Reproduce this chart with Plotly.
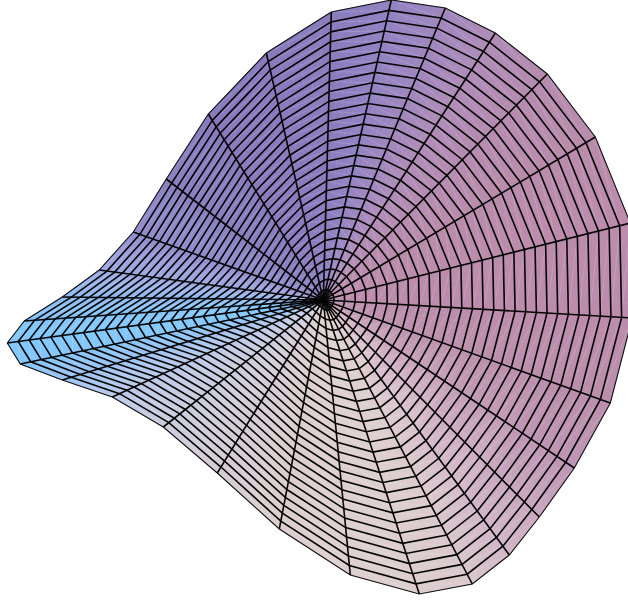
import plotly.graph_objects as go

# Outer edge of the surface, one point per spoke, clockwise from the top (data units, centre at 0,0)
rim_x = [0.08, 0.68, 1.22, 1.72, 2.24, 2.72, 3.07, 3.09, 2.87, 2.51, 2.16, 1.86, 1.49, 0.96,
         0.27, -0.44, -1.06, -1.60, -2.11, -2.61, -3.03, -3.16, -2.99, -2.61, -2.24, -1.90,
         -1.57, -1.15, -0.57]
rim_y = [2.88, 3.00, 2.92, 2.67, 2.26, 1.63, 0.77, -0.18, -1.03, -1.68, -2.17, -2.55, -2.84,
         -2.94, -2.75, -2.29, -1.73, -1.27, -0.97, -0.80, -0.64, -0.43, -0.21, 0.03, 0.30,
         0.68, 1.21, 1.86, 2.47]
ring_levels = [0.0, 0.0345, 0.069, 0.1034, 0.1379, 0.1724, 0.2069, 0.2414, 0.2759, 0.3103,
               0.3448, 0.3793, 0.4138, 0.4483, 0.4828, 0.5172, 0.5517, 0.5862, 0.6207, 0.6552,
               0.6897, 0.7241, 0.7586, 0.7931, 0.8276, 0.8621, 0.8966, 0.931, 0.9655, 1.0]
# Surface colour seen at each spoke, at the outer edge and next to the centre
outer_colors = [(137, 125, 190), (146, 130, 194), (160, 135, 190), (175, 140, 184), (182, 140, 176),
                (186, 140, 172), (187, 140, 171), (187, 140, 171), (186, 142, 172), (188, 148, 178),
                (198, 165, 190), (208, 180, 198), (216, 198, 204), (220, 206, 206), (222, 208, 208),
                (220, 206, 206), (214, 205, 212), (204, 205, 222), (188, 202, 232), (158, 196, 242),
                (132, 197, 252), (128, 200, 255), (130, 198, 254), (142, 188, 244), (160, 172, 228),
                (148, 142, 206), (138, 128, 194), (136, 124, 190), (136, 124, 190)]
inner_colors = [(137, 125, 190), (146, 130, 194), (160, 135, 190), (175, 140, 184), (182, 140, 176),
                (186, 140, 172), (187, 140, 171), (187, 140, 171), (190, 148, 176), (205, 170, 190),
                (218, 192, 204), (222, 202, 208), (224, 208, 209), (222, 208, 208), (222, 208, 208),
                (220, 206, 206), (214, 205, 212), (204, 205, 222), (188, 202, 232), (158, 196, 242),
                (132, 197, 252), (128, 200, 255), (130, 198, 254), (142, 188, 244), (160, 172, 228),
                (148, 142, 206), (138, 128, 194), (136, 124, 190), (136, 124, 190)]

n = len(rim_x)
SUB = 6
BANDS = 4
fig = go.Figure()


def mix(a, b, t):
    return tuple(a[j] + (b[j] - a[j]) * t for j in range(3))


def rgb(c):
    return "rgb(%d,%d,%d)" % tuple(round(v) for v in c)


for i in range(n):
    a = (i + 1) % n
    for s in range(SUB):
        t0, t1 = s / SUB, (s + 1) / SUB
        p0x, p0y = rim_x[i] + (rim_x[a] - rim_x[i]) * t0, rim_y[i] + (rim_y[a] - rim_y[i]) * t0
        p1x, p1y = rim_x[i] + (rim_x[a] - rim_x[i]) * t1, rim_y[i] + (rim_y[a] - rim_y[i]) * t1
        tm = (t0 + t1) / 2
        cout = mix(outer_colors[i], outer_colors[a], tm)
        cin = mix(inner_colors[i], inner_colors[a], tm)
        same = cout == cin
        for b in range(1 if same else BANDS):
            r0, r1 = (0.0, 1.0) if same else (b / BANDS, (b + 1) / BANDS)
            c = rgb(mix(cin, cout, (r0 + r1) / 2))
            xs = [p0x * r0, p0x * r1, p1x * r1, p1x * r0, p0x * r0]
            ys = [p0y * r0, p0y * r1, p1y * r1, p1y * r0, p0y * r0]
            fig.add_trace(go.Scatter(x=xs, y=ys, mode="lines", fill="toself", fillcolor=c,
                                     line=dict(color=c, width=0.6), hoverinfo="skip", showlegend=False))

# faint triangulation seams
sx, sy = [], []
for i in range(n):
    a = (i + 1) % n
    for k in range(len(ring_levels) - 1):
        sx += [rim_x[i] * ring_levels[k + 1], rim_x[a] * ring_levels[k], None]
        sy += [rim_y[i] * ring_levels[k + 1], rim_y[a] * ring_levels[k], None]
fig.add_trace(go.Scatter(x=sx, y=sy, mode="lines", line=dict(color="rgba(255,255,255,0.22)", width=0.7),
                         hoverinfo="skip", showlegend=False))

# inner rings and spokes
lx, ly = [], []
for lv in ring_levels[1:-1]:
    for i in range(n + 1):
        lx.append(rim_x[i % n] * lv)
        ly.append(rim_y[i % n] * lv)
    lx.append(None)
    ly.append(None)
for i in range(n):
    lx += [0, rim_x[i], None]
    ly += [0, rim_y[i], None]
fig.add_trace(go.Scatter(x=lx, y=ly, mode="lines", line=dict(color="#050505", width=1.6),
                         hoverinfo="skip", showlegend=False))
# outer edge
fig.add_trace(go.Scatter(x=rim_x + rim_x[:1], y=rim_y + rim_y[:1], mode="lines",
                         line=dict(color="#101010", width=1.1), hoverinfo="skip", showlegend=False))

fig.update_layout(
    width=628, height=601, margin=dict(l=0, r=0, t=0, b=0),
    paper_bgcolor="white", plot_bgcolor="white", showlegend=False,
    xaxis=dict(range=[-3.233, 3.047], visible=False, fixedrange=True),
    yaxis=dict(range=[-3.01, 3.00], visible=False, fixedrange=True),
)
fig.write_html("out.html", post_script="document.body.style.margin='0';",
               config={"displayModeBar": False})
